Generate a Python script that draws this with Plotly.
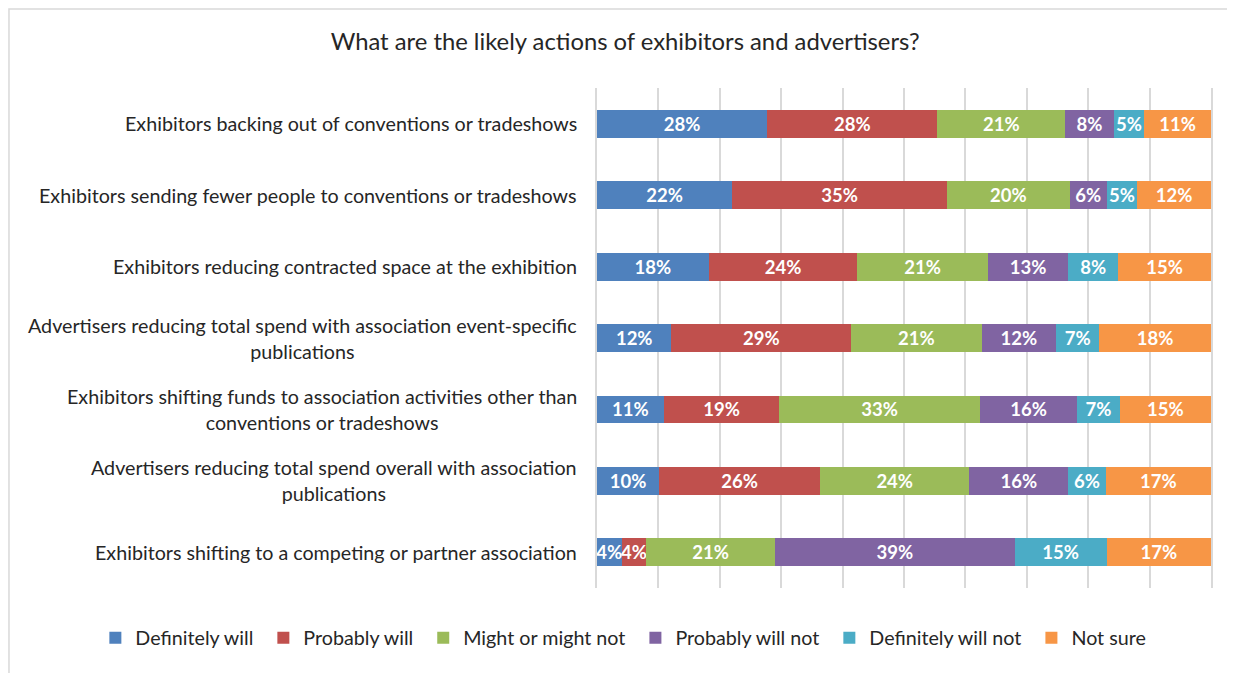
import plotly.graph_objects as go

categories = [
    "Exhibitors backing out of conventions or tradeshows",
    "Exhibitors sending fewer people to conventions or tradeshows",
    "Exhibitors reducing contracted space at the exhibition",
    "Advertisers reducing total spend with association event-specific<br>publications",
    "Exhibitors shifting funds to association activities other than<br>conventions or tradeshows",
    "Advertisers reducing total spend overall with association<br>publications",
    "Exhibitors shifting to a competing or partner association",
]

definitely_will = [28, 22, 18, 12, 11, 10, 4]
probably_will = [28, 35, 24, 29, 19, 26, 4]
might_or_might_not = [21, 20, 21, 21, 33, 24, 21]
probably_will_not = [8, 6, 13, 12, 16, 16, 39]
definitely_will_not = [5, 5, 8, 7, 7, 6, 15]
not_sure = [11, 12, 15, 18, 15, 17, 17]

series = [
    ("Definitely will", definitely_will, "#4F81BD"),
    ("Probably will", probably_will, "#C0504D"),
    ("Might or might not", might_or_might_not, "#9BBB59"),
    ("Probably will not", probably_will_not, "#8064A2"),
    ("Definitely will not", definitely_will_not, "#4BACC6"),
    ("Not sure", not_sure, "#F79646"),
]

FONT = "Lato"
TEXT = "#262626"
GRID = "#D9D9D9"

fig = go.Figure()
for name, vals, color in series:
    fig.add_trace(go.Bar(
        y=categories,
        x=vals,
        name=name + "\u00a0",
        orientation="h",
        marker=dict(color=color, line=dict(width=0)),
        text=[f"{v}%" for v in vals],
        textposition="inside",
        insidetextanchor="middle",
        textangle=0,
        constraintext="none",
        textfont=dict(family=FONT, size=18.5, color="white", weight="bold"),
        hoverinfo="skip",
    ))

# category labels, centred multi-line like the original
for cat in categories:
    fig.add_annotation(
        x=-0.03, xref="paper", y=cat, yref="y",
        text=cat, showarrow=False, xanchor="right", align="center",
        font=dict(family=FONT, size=19.7, color=TEXT),
    )

# outer chart border
fig.add_shape(type="rect", xref="paper", yref="paper",
              x0=-0.9577, x1=1.2, y0=-0.4, y1=1.158,
              line=dict(color=GRID, width=1.5), layer="below")

fig.update_layout(
    width=1227, height=665,
    margin=dict(l=589, r=24, t=80, b=85, autoexpand=False),
    barmode="stack",
    barnorm="percent",
    bargap=0.61,
    paper_bgcolor="white",
    plot_bgcolor="white",
    title=dict(text="What are the likely actions of exhibitors and advertisers?",
               x=0.503, xanchor="center", y=0.949, yanchor="middle",
               font=dict(family=FONT, size=23.8, color=TEXT)),
    xaxis=dict(range=[0, 100], dtick=10, showgrid=True, gridcolor=GRID,
               gridwidth=1.5, zeroline=False, showticklabels=False, showline=False),
    # vertical edge lines stand in for the 0% and 100% gridlines
    yaxis=dict(autorange="reversed", showticklabels=False, showgrid=False,
               zeroline=False, showline=True, mirror=True, linecolor=GRID,
               linewidth=1.5),
    legend=dict(orientation="h", x=-0.817, xanchor="left",
                y=-0.1, yanchor="middle",
                font=dict(family=FONT, size=19.7, color=TEXT), traceorder="normal",
                itemwidth=30),
    showlegend=True,
)

fig.write_html("out.html")
